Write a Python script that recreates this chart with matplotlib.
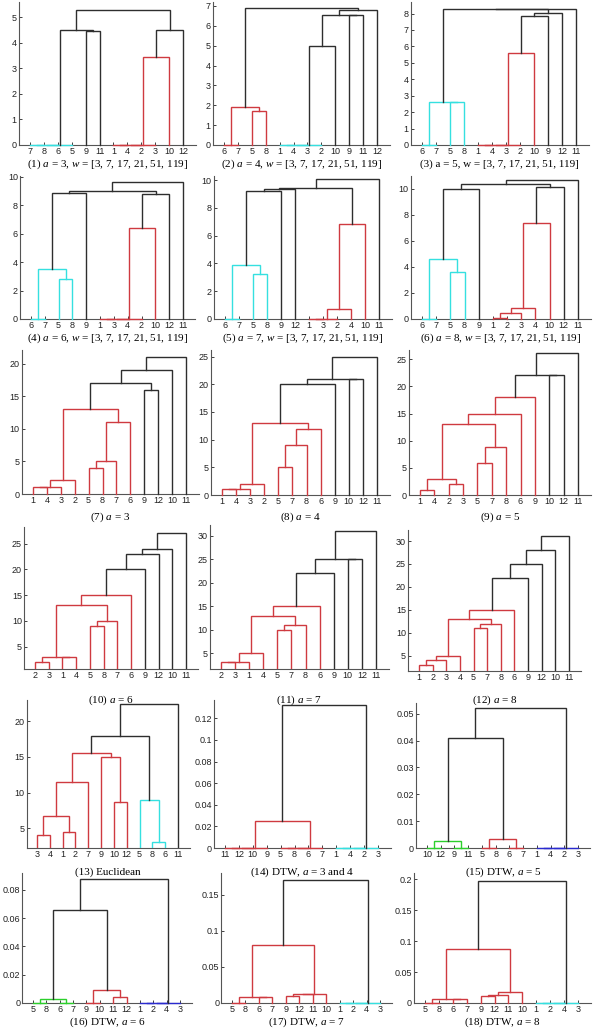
import numpy as np
import matplotlib.pyplot as plt
from matplotlib.ticker import FormatStrFormatter

plt.rcParams['font.family'] = ['Liberation Sans', 'DejaVu Sans']
plt.rcParams['mathtext.fontset'] = 'custom'
plt.rcParams['mathtext.it'] = 'Liberation Serif:italic'
plt.rcParams['mathtext.rm'] = 'Liberation Serif'

COLORES = {'k': '#2e2e2e', 'r': '#cf3a40', 'c': '#35e0e0', 'g': '#2ccf2c', 'b': '#2a2ad0'}

# --- datos: orden de hojas y uniones (izq, der, altura, color); 'mK' = union K ---
hojas_1 = [7, 8, 6, 5, 9, 11, 1, 4, 2, 3, 10, 12]
uniones_1 = [(7, 8, 0, 'c'), ('m0', 6, 0, 'c'), ('m1', 5, 0, 'c'),
             (1, 4, 0, 'r'), ('m3', 2, 0, 'r'), ('m4', 3, 0, 'r'),
             ('m5', 10, 3.45, 'r'), (9, 11, 4.48, 'k'), ('m2', 'm7', 4.5, 'k'),
             ('m6', 12, 4.5, 'k'), ('m8', 'm9', 5.3, 'k')]

hojas_2 = [6, 7, 5, 8, 1, 4, 3, 2, 10, 9, 11, 12]
uniones_2 = [(6, 7, 0, 'r'), (5, 8, 1.72, 'r'), ('m0', 'm1', 1.93, 'r'),
             (1, 4, 0, 'c'), ('m3', 3, 0, 'c'), ('m4', 2, 0, 'c'),
             ('m5', 10, 4.98, 'k'), (9, 11, 6.53, 'k'), ('m6', 'm7', 6.55, 'k'),
             ('m8', 12, 6.8, 'k'), ('m2', 'm9', 6.9, 'k')]

hojas_3 = [6, 7, 5, 8, 1, 4, 3, 2, 10, 9, 12, 11]
uniones_3 = [(6, 7, 0, 'c'), (5, 8, 2.6, 'c'), ('m0', 'm1', 2.62, 'c'),
             (1, 4, 0, 'r'), ('m3', 3, 0, 'r'), ('m4', 2, 0, 'r'),
             ('m5', 10, 5.6, 'r'), ('m6', 9, 7.85, 'k'), ('m7', 12, 8.02, 'k'),
             ('m2', 'm8', 8.25, 'k'), ('m9', 11, 8.3, 'k')]

hojas_4 = [6, 7, 5, 8, 9, 1, 3, 4, 2, 10, 12, 11]
uniones_4 = [(6, 7, 0, 'c'), (5, 8, 2.78, 'c'), ('m0', 'm1', 3.5, 'c'),
             ('m2', 9, 8.88, 'k'),
             (1, 3, 0, 'r'), ('m4', 4, 0, 'r'), ('m5', 2, 0, 'r'),
             ('m6', 10, 6.4, 'r'), ('m7', 12, 8.75, 'k'), ('m3', 'm8', 8.97, 'k'),
             ('m9', 11, 9.6, 'k')]

hojas_5 = [6, 7, 5, 8, 9, 12, 1, 3, 2, 4, 10, 11]
uniones_5 = [(6, 7, 0, 'c'), (5, 8, 3.24, 'c'), ('m0', 'm1', 3.9, 'c'),
             ('m2', 9, 9.23, 'k'), ('m3', 12, 9.35, 'k'),
             (1, 3, 0, 'r'), ('m5', 2, 0, 'r'), ('m6', 4, 0.75, 'r'),
             ('m7', 10, 6.86, 'r'), ('m4', 'm8', 9.42, 'k'), ('m9', 11, 10.1, 'k')]

hojas_6 = [6, 7, 5, 8, 9, 1, 2, 3, 4, 10, 12, 11]
uniones_6 = [(6, 7, 0, 'c'), (5, 8, 3.65, 'c'), ('m0', 'm1', 4.64, 'c'),
             ('m2', 9, 10.0, 'k'),
             (1, 2, 0.05, 'r'), ('m4', 3, 0.46, 'r'), ('m5', 4, 0.87, 'r'),
             ('m6', 10, 7.4, 'r'), ('m7', 12, 10.15, 'k'), ('m3', 'm8', 10.4, 'k'),
             ('m9', 11, 10.66, 'k')]

hojas_7 = [1, 4, 3, 2, 5, 8, 7, 6, 9, 12, 10, 11]
uniones_7 = [(1, 4, 1.0, 'r'), ('m0', 3, 1.05, 'r'), ('m1', 2, 2.1, 'r'),
             (5, 8, 4.05, 'r'), ('m3', 7, 5.0, 'r'), ('m4', 6, 11.0, 'r'),
             ('m2', 'm5', 13.0, 'r'), (9, 12, 16.0, 'k'), ('m6', 'm7', 17.05, 'k'),
             ('m8', 10, 19.05, 'k'), ('m9', 11, 21.05, 'k')]

hojas_8 = [1, 4, 3, 2, 5, 7, 8, 6, 9, 10, 12, 11]
uniones_8 = [(1, 4, 1.0, 'r'), ('m0', 3, 1.05, 'r'), ('m1', 2, 2.0, 'r'),
             (5, 7, 5.0, 'r'), ('m3', 8, 9.0, 'r'), ('m4', 6, 12.0, 'r'),
             ('m2', 'm5', 13.0, 'r'), ('m6', 9, 20.0, 'k'), (10, 12, 21.0, 'k'),
             ('m7', 'm8', 21.05, 'k'), ('m9', 11, 25.0, 'k')]

hojas_9 = [1, 4, 2, 3, 5, 7, 8, 6, 9, 10, 12, 11]
uniones_9 = [(1, 4, 0.95, 'r'), (2, 3, 1.96, 'r'), ('m0', 'm1', 2.95, 'r'),
             (5, 7, 5.95, 'r'), ('m3', 8, 8.9, 'r'), ('m2', 'm4', 13.0, 'r'),
             ('m5', 6, 15.0, 'r'), ('m6', 9, 18.0, 'r'), (10, 12, 22.05, 'k'),
             ('m7', 'm8', 22.1, 'k'), ('m9', 11, 26.1, 'k')]

hojas_10 = [2, 3, 1, 4, 5, 8, 7, 6, 9, 12, 10, 11]
uniones_10 = [(2, 3, 1.98, 'r'), (1, 4, 3.0, 'r'), ('m0', 'm1', 3.02, 'r'),
              (5, 8, 9.0, 'r'), ('m3', 7, 10.0, 'r'), ('m2', 'm4', 13.0, 'r'),
              ('m5', 6, 15.0, 'r'), ('m6', 9, 20.0, 'k'), ('m7', 12, 23.0, 'k'),
              ('m8', 10, 24.0, 'k'), ('m9', 11, 27.0, 'k')]

hojas_11 = [2, 3, 1, 4, 5, 7, 8, 6, 9, 10, 12, 11]
uniones_11 = [(2, 3, 3.0, 'r'), ('m0', 1, 3.05, 'r'), ('m1', 4, 5.0, 'r'),
              (5, 7, 10.0, 'r'), ('m3', 8, 11.0, 'r'), ('m2', 'm4', 13.0, 'r'),
              ('m5', 6, 15.0, 'r'), ('m6', 9, 22.0, 'k'), (10, 12, 25.0, 'k'),
              ('m7', 'm8', 25.05, 'k'), ('m9', 11, 31.0, 'k')]

hojas_12 = [1, 2, 3, 4, 5, 7, 8, 6, 9, 12, 10, 11]
uniones_12 = [(1, 2, 3.1, 'r'), ('m0', 3, 4.05, 'r'), ('m1', 4, 5.07, 'r'),
              (5, 7, 11.1, 'r'), ('m3', 8, 12.0, 'r'), ('m2', 'm4', 13.0, 'r'),
              ('m5', 6, 15.0, 'r'), ('m6', 9, 22.0, 'k'), ('m7', 12, 24.9, 'k'),
              ('m8', 10, 28.0, 'k'), ('m9', 11, 31.0, 'k')]

hojas_13 = [3, 4, 1, 2, 7, 9, 10, 12, 5, 8, 6, 11]
uniones_13 = [(3, 4, 4.0, 'r'), (1, 2, 4.5, 'r'), ('m0', 'm1', 6.7, 'r'),
              ('m2', 7, 11.5, 'r'), (10, 12, 8.7, 'r'), (9, 'm4', 15.0, 'r'),
              ('m3', 'm5', 15.5, 'r'), (8, 6, 3.0, 'c'), (5, 'm7', 9.0, 'c'),
              ('m6', 'm8', 18.0, 'k'), ('m9', 11, 22.5, 'k')]

hojas_14 = [11, 12, 10, 9, 5, 8, 6, 7, 1, 4, 2, 3]
uniones_14 = [(11, 12, 0, 'r'), ('m0', 10, 0, 'r'), ('m1', 9, 0, 'r'),
              (5, 8, 0, 'r'), ('m3', 6, 0, 'r'), ('m4', 7, 0, 'r'),
              ('m2', 'm5', 0.025, 'r'), (1, 4, 0, 'c'), ('m7', 2, 0, 'c'),
              ('m8', 3, 0, 'c'), ('m6', 'm9', 0.132, 'k')]

hojas_15 = [10, 12, 9, 11, 5, 8, 6, 7, 1, 4, 2, 3]
uniones_15 = [(10, 12, 0, 'g'), (9, 11, 0, 'g'), ('m0', 'm1', 0.0025, 'g'),
              (5, 8, 0, 'r'), (6, 7, 0, 'r'), ('m3', 'm4', 0.0035, 'r'),
              ('m2', 'm5', 0.041, 'k'), (1, 4, 0, 'b'), ('m7', 2, 0, 'b'),
              ('m8', 3, 0, 'b'), ('m6', 'm9', 0.052, 'k')]

hojas_16 = [5, 8, 6, 7, 9, 10, 11, 12, 1, 2, 4, 3]
uniones_16 = [(5, 8, 0, 'g'), (6, 7, 0, 'g'), ('m0', 'm1', 0.003, 'g'),
              (9, 10, 0, 'r'), (11, 12, 0.004, 'r'), ('m3', 'm4', 0.009, 'r'),
              ('m2', 'm5', 0.066, 'k'), (1, 2, 0, 'b'), ('m7', 4, 0, 'b'),
              ('m8', 3, 0, 'b'), ('m6', 'm9', 0.088, 'k')]

hojas_17 = [5, 8, 6, 7, 9, 12, 11, 10, 1, 2, 4, 3]
uniones_17 = [(5, 8, 0, 'r'), (6, 7, 0.008, 'r'), ('m0', 'm1', 0.008, 'r'),
              (9, 12, 0.01, 'r'), ('m3', 11, 0.012, 'r'), ('m4', 10, 0.013, 'r'),
              ('m2', 'm5', 0.08, 'r'), (1, 2, 0, 'c'), ('m7', 4, 0, 'c'),
              ('m8', 3, 0, 'c'), ('m6', 'm9', 0.17, 'k')]

hojas_18 = [5, 8, 6, 7, 9, 12, 11, 10, 1, 2, 4, 3]
uniones_18 = [(5, 8, 0, 'r'), (6, 7, 0.007, 'r'), ('m0', 'm1', 0.007, 'r'),
              (9, 12, 0.012, 'r'), ('m3', 11, 0.013, 'r'), ('m4', 10, 0.017, 'r'),
              ('m2', 'm5', 0.088, 'r'), (1, 2, 0, 'c'), ('m7', 4, 0, 'c'),
              ('m8', 3, 0, 'c'), ('m6', 'm9', 0.197, 'k')]

w_txt = '[3, 7, 17, 21, 51, 119]'
titulos = [r'(1) $a$ = 3, $w$ = ' + w_txt, r'(2) $a$ = 4, $w$ = ' + w_txt,
           r'(3) a = 5, w = ' + w_txt, r'(4) $a$ = 6, $w$ = ' + w_txt,
           r'(5) $a$ = 7, $w$ = ' + w_txt, r'(6) $a$ = 8, $w$ = ' + w_txt,
           r'(7) $a$ = 3', r'(8) $a$ = 4', r'(9) $a$ = 5',
           r'(10) $a$ = 6', r'(11) $a$ = 7', r'(12) $a$ = 8',
           '(13) Euclidean', r'(14) DTW, $a$ = 3 and 4', r'(15) DTW, $a$ = 5',
           r'(16) DTW, $a$ = 6', r'(17) DTW, $a$ = 7', r'(18) DTW, $a$ = 8']

hojas = [hojas_1, hojas_2, hojas_3, hojas_4, hojas_5, hojas_6, hojas_7, hojas_8, hojas_9,
         hojas_10, hojas_11, hojas_12, hojas_13, hojas_14, hojas_15, hojas_16, hojas_17, hojas_18]
uniones = [uniones_1, uniones_2, uniones_3, uniones_4, uniones_5, uniones_6, uniones_7,
           uniones_8, uniones_9, uniones_10, uniones_11, uniones_12, uniones_13, uniones_14,
           uniones_15, uniones_16, uniones_17, uniones_18]

# --- escalas verticales y ticks de cada panel ---
ylims = [(0, 5.6), (0, 7.2), (0, 8.7), (0, 10.05), (0, 10.3), (0, 11.0),
         (0, 22.1), (0, 26.2), (0, 26.7), (0.7, 28.2), (1.6, 32.3), (1.7, 32.4),
         (2.2, 23.0), (0, 0.137), (0, 0.054), (0, 0.092), (0, 0.18), (0, 0.21)]
yticks = [np.arange(0, 6), np.arange(0, 8), np.arange(0, 9), np.arange(0, 11, 2),
          np.arange(0, 11, 2), np.arange(0, 11, 2), np.arange(0, 21, 5), np.arange(0, 26, 5),
          np.arange(0, 26, 5), np.arange(5, 26, 5), np.arange(5, 31, 5), np.arange(5, 31, 5),
          np.arange(5, 21, 5), np.arange(0, 0.13, 0.02), np.arange(0, 0.051, 0.01),
          np.arange(0, 0.081, 0.02), [0, 0.05, 0.1, 0.15], [0, 0.05, 0.1, 0.15, 0.2]]

# --- ubicacion en pixeles: (hoja 1, hoja 12, eje x, tope) ---
cajas = [(30, 183, 145, 2), (224, 377, 145, 2), (422, 576, 145, 2),
         (31, 183, 319, 176), (225, 379, 319, 176), (422, 578, 319, 176),
         (33, 186, 494, 350), (222, 377, 495, 350), (420, 578, 495, 350),
         (35, 186, 669, 527), (221, 376, 669, 525), (419, 569, 671, 530),
         (37, 178, 848, 700), (225, 378, 848, 700), (427, 578, 848, 703),
         (33, 180, 1003, 873), (232, 380, 1003, 873), (425, 578, 1003, 873)]
y_titulo = [164, 164, 164, 338, 338, 338, 517, 517, 517, 700, 700, 700,
            872, 872, 872, 1022, 1022, 1022]

W, H = 600, 1031
fig = plt.figure(figsize=(W / 100, H / 100), dpi=100)


def dendrograma(ax, hj, un, recorte):
    pos = {h: i + 1 for i, h in enumerate(hj)}
    alt = {h: 0.0 for h in hj}
    for k, (a, b, h, c) in enumerate(un):
        xa, xb = pos[a], pos[b]
        ax.plot([xa, xa, xb, xb], [alt[a], h, h, alt[b]], color=COLORES[c],
                lw=1.0, clip_on=recorte, zorder=3, solid_joinstyle='miter')
        pos[f'm{k}'] = (xa + xb) / 2
        alt[f'm{k}'] = h


for i in range(18):
    p1, p12, yb, yt = cajas[i]
    sp = (p12 - p1) / 11
    x0, x1 = p1 - 0.8 * sp, p12 + 0.9 * sp
    ax = fig.add_axes([x0 / W, 1 - yb / H, (x1 - x0) / W, (yb - yt) / H])
    dendrograma(ax, hojas[i], uniones[i], ylims[i][0] > 0)
    ax.set_xlim(0.2, 12.9)
    ax.set_ylim(*ylims[i])
    ax.set_xticks(range(1, 13))
    ax.set_xticklabels([str(h) for h in hojas[i]])
    ax.set_yticks(yticks[i])
    ax.yaxis.set_major_formatter(FormatStrFormatter('%g'))
    for lado in ['top', 'right']:
        ax.spines[lado].set_visible(False)
    for lado in ['left', 'bottom']:
        ax.spines[lado].set_color('#555555')
        ax.spines[lado].set_linewidth(0.8)
    ax.tick_params(direction='in', length=2, width=0.6, labelsize=6.5, pad=1.5, colors='#222222')
    fig.text((x0 + x1) / 2 / W, 1 - y_titulo[i] / H, titulos[i], ha='center', va='center',
             fontsize=8, family='Liberation Serif')

fig.savefig('out.png', dpi=100)
